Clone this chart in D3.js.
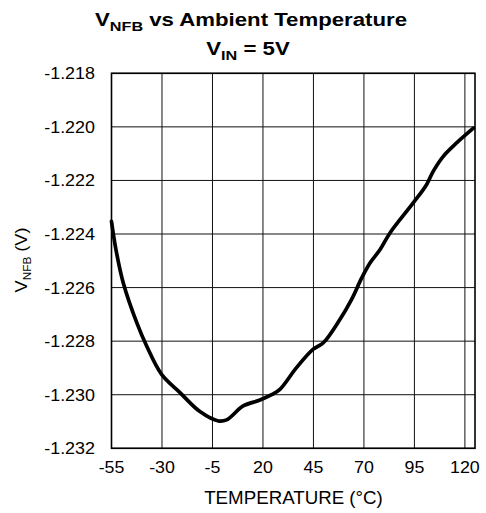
<!DOCTYPE html>
<html><head><meta charset="utf-8">
<script src="https://cdn.jsdelivr.net/npm/d3@7"></script>
<style>body{margin:0;background:#fff}svg{display:block}</style>
</head><body>
<svg id="c" width="486" height="513"></svg>
<script>
const temps = [-55, -52.8, -49.2, -42.5, -37.6, -30.2, -21.1, -11.2, -2.1, 2.0, 10.2, 18.5, 24.3, 28.4, 36.7, 44.9, 49.9, 58.1, 63.9, 68.9, 73.0, 78.0, 82.9, 94.4, 101, 104.3, 109.3, 115.9, 124.2];
const vnfb = [-1.22353, -1.22458, -1.22582, -1.22731, -1.22818, -1.22924, -1.22992, -1.23063, -1.23098, -1.23094, -1.23042, -1.2302, -1.2300, -1.2298, -1.22898, -1.2283, -1.22806, -1.22719, -1.22644, -1.22564, -1.22508, -1.22458, -1.22396, -1.22284, -1.22216, -1.22166, -1.2211, -1.2206, -1.22005];
const xTicks = [-55, -30, -5, 20, 45, 70, 95, 120];
const yTicks = [-1.218, -1.220, -1.222, -1.224, -1.226, -1.228, -1.230, -1.232];

const svg = d3.select("#c");
const L = 111.5, R = 475, T = 73.3, B = 448.3;
const x = d3.scaleLinear().domain([-55, 125]).range([L, R]);
const y = d3.scaleLinear().domain([-1.232, -1.218]).range([B, T]);
const font = "'Liberation Sans', Arial, sans-serif";

// grid
const g = svg.append("g");
g.selectAll(".vg").data(xTicks).enter().append("line")
  .attr("x1", d => x(d)).attr("x2", d => x(d)).attr("y1", T).attr("y2", B)
  .attr("stroke", "#111").attr("stroke-width", 1);
g.selectAll(".hg").data(yTicks).enter().append("line")
  .attr("x1", L).attr("x2", R).attr("y1", d => y(d)).attr("y2", d => y(d))
  .attr("stroke", "#111").attr("stroke-width", 1);
g.append("rect").attr("x", L).attr("y", T).attr("width", R - L).attr("height", B - T)
  .attr("fill", "none").attr("stroke", "#000").attr("stroke-width", 1.6);

function stext(px, py, sx, opts) {
  const gg = svg.append("g").attr("transform", `translate(${px},${py}) scale(${sx},1)`);
  const t = gg.append("text").attr("x", 0).attr("y", 0)
    .attr("font-family", font).attr("font-size", opts.size)
    .attr("font-weight", opts.weight || "normal")
    .attr("text-anchor", opts.anchor || "middle").attr("fill", "#000");
  return t;
}
xTicks.forEach(d => stext(x(d), 473, 1.08, {size: 16.5}).text(d));
yTicks.forEach(d => stext(95, y(d) + 6, 1.12, {size: 16, anchor: "end"}).text(d3.format(".3f")(d).replace("−", "-")));

stext(293.5, 504, 1.07, {size: 17.5}).text("TEMPERATURE (°C)");

{
  const gg = svg.append("g").attr("transform", `translate(27,260) rotate(-90) scale(1.13,1)`);
  const t = gg.append("text").attr("font-family", font).attr("font-size", 16)
    .attr("text-anchor", "middle").attr("fill", "#000");
  t.append("tspan").text("V");
  t.append("tspan").attr("font-size", 10.5).attr("dy", 4).text("NFB");
  t.append("tspan").attr("dy", -4).text(" (V)");
}

{
  const t = stext(251, 26, 1.2, {size: 18.5, weight: "bold"});
  t.append("tspan").text("V");
  t.append("tspan").attr("font-size", 13.5).attr("dy", 4.5).text("NFB");
  t.append("tspan").attr("dy", -4.5).text(" vs Ambient Temperature");
  const t2 = stext(248, 55, 1.2, {size: 18.5, weight: "bold"});
  t2.append("tspan").text("V");
  t2.append("tspan").attr("font-size", 13.5).attr("dy", 5).text("IN");
  t2.append("tspan").attr("dy", -5).text(" = 5V");
}

const pts = temps.map((t, i) => [t, vnfb[i]]);
svg.append("path").datum(pts)
  .attr("d", d3.line().x(d => x(d[0])).y(d => y(d[1])).curve(d3.curveCatmullRom.alpha(0.5)))
  .attr("fill", "none").attr("stroke", "#000").attr("stroke-width", 3.7)
  .attr("stroke-linejoin", "round").attr("stroke-linecap", "round");
</script>
</body></html>
